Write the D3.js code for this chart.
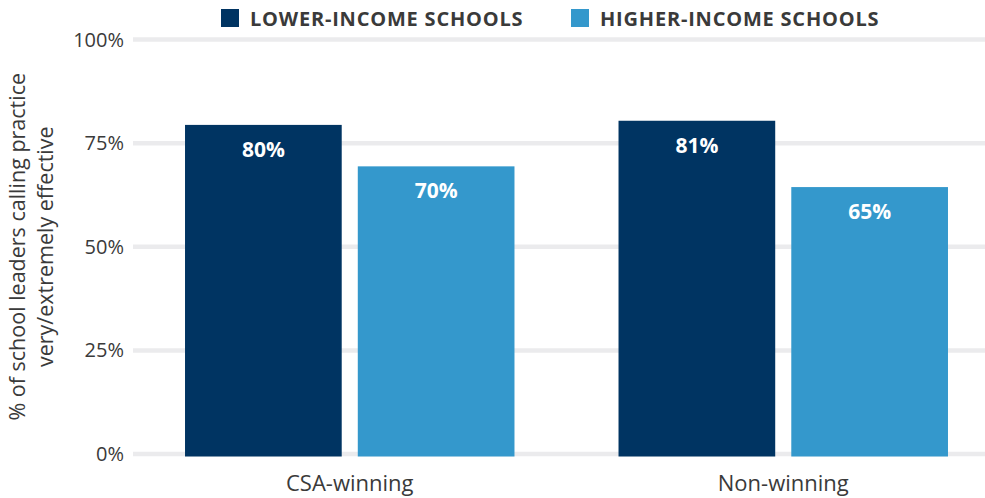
<!DOCTYPE html>
<html>
<head>
<meta charset="utf-8">
<script src="https://cdn.jsdelivr.net/npm/d3@7"></script>
<style>
  body { margin: 0; background: #fff; }
  text { font-family: "Open Sans", sans-serif; }
</style>
</head>
<body>
<svg id="chart"></svg>
<script>
// data
const groups = ['CSA-winning', 'Non-winning'];
const seriesNames = ['LOWER-INCOME SCHOOLS', 'HIGHER-INCOME SCHOOLS'];
const lowerIncome = [80, 81];
const higherIncome = [70, 65];
const yTicks = [0, 25, 50, 75, 100];

const width = 985;
const height = 498;
const colors = ['#003462', '#3498cc'];

const svg = d3.select('#chart')
    .attr('width', width)
    .attr('height', height);

const rows = groups.map((g, i) => ({
    group: g,
    values: [lowerIncome[i], higherIncome[i]]
}));

const y = d3.scaleLinear().domain([0, 100]).range([454, 39.5]);

const x0 = d3.scaleBand()
    .domain(groups)
    .range([133, 1000])
    .paddingInner(0.24)
    .paddingOuter(0.12);

const x1 = d3.scaleBand()
    .domain(seriesNames)
    .range([0, x0.bandwidth()])
    .paddingInner(0.093);

// gridlines
svg.append('g')
    .selectAll('line')
    .data(yTicks)
    .join('line')
    .attr('x1', 133)
    .attr('x2', 985)
    .attr('y1', d => y(d))
    .attr('y2', d => y(d))
    .attr('stroke', '#ebebed')
    .attr('stroke-width', 4.5);

// y tick labels
svg.append('g')
    .selectAll('text')
    .data(yTicks)
    .join('text')
    .attr('x', 124)
    .attr('y', d => y(d))
    .attr('dy', '0.35em')
    .attr('text-anchor', 'end')
    .attr('font-size', 20)
    .attr('fill', '#3a3a3a')
    .text(d => d + '%');

// y title
const yMid = (y(0) + y(100)) / 2;
svg.append('text')
    .attr('transform', `translate(17, ${yMid}) rotate(-90)`)
    .attr('text-anchor', 'middle')
    .attr('dy', '0.35em')
    .attr('font-size', 21.5)
    .attr('fill', '#3a3a3a')
    .text('% of school leaders calling practice');
svg.append('text')
    .attr('transform', `translate(45, ${yMid}) rotate(-90)`)
    .attr('text-anchor', 'middle')
    .attr('dy', '0.35em')
    .attr('font-size', 21.5)
    .attr('fill', '#3a3a3a')
    .text('very/extremely effective');

// bars (drawn slightly below the gridline, like the original)
const barShift = 2.5;
const groupG = svg.append('g')
    .selectAll('g')
    .data(rows)
    .join('g')
    .attr('transform', d => `translate(${x0(d.group)}, 0)`);

const cells = d => d.values.map((v, i) => ({ key: seriesNames[i], value: v, idx: i }));

groupG.selectAll('rect')
    .data(cells)
    .join('rect')
    .attr('x', d => x1(d.key))
    .attr('y', d => y(d.value) + barShift)
    .attr('width', x1.bandwidth())
    .attr('height', d => y(0) - y(d.value))
    .attr('fill', d => colors[d.idx]);

groupG.selectAll('text')
    .data(cells)
    .join('text')
    .attr('x', d => x1(d.key) + x1.bandwidth() / 2)
    .attr('y', d => y(d.value) + barShift + 32)
    .attr('text-anchor', 'middle')
    .attr('font-size', 21)
    .attr('font-weight', 'bold')
    .attr('fill', '#fff')
    .text(d => d.value + '%');

// category labels
svg.append('g')
    .selectAll('text')
    .data(groups)
    .join('text')
    .attr('x', d => x0(d) + x0.bandwidth() / 2)
    .attr('y', 491)
    .attr('text-anchor', 'middle')
    .attr('font-size', 22)
    .attr('fill', '#3a3a3a')
    .text(d => d);

// legend
const legendX = [221, 571];
const legend = svg.append('g')
    .selectAll('g')
    .data(seriesNames)
    .join('g')
    .attr('transform', (d, i) => `translate(${legendX[i]}, 9)`);

legend.append('rect')
    .attr('width', 18)
    .attr('height', 18)
    .attr('fill', (d, i) => colors[i]);

legend.append('text')
    .attr('x', 29)
    .attr('y', 17)
    .attr('font-size', 20)
    .attr('font-weight', 'bold')
    .attr('letter-spacing', 0.8)
    .attr('fill', '#3a3a3a')
    .text(d => d);
</script>
</body>
</html>
